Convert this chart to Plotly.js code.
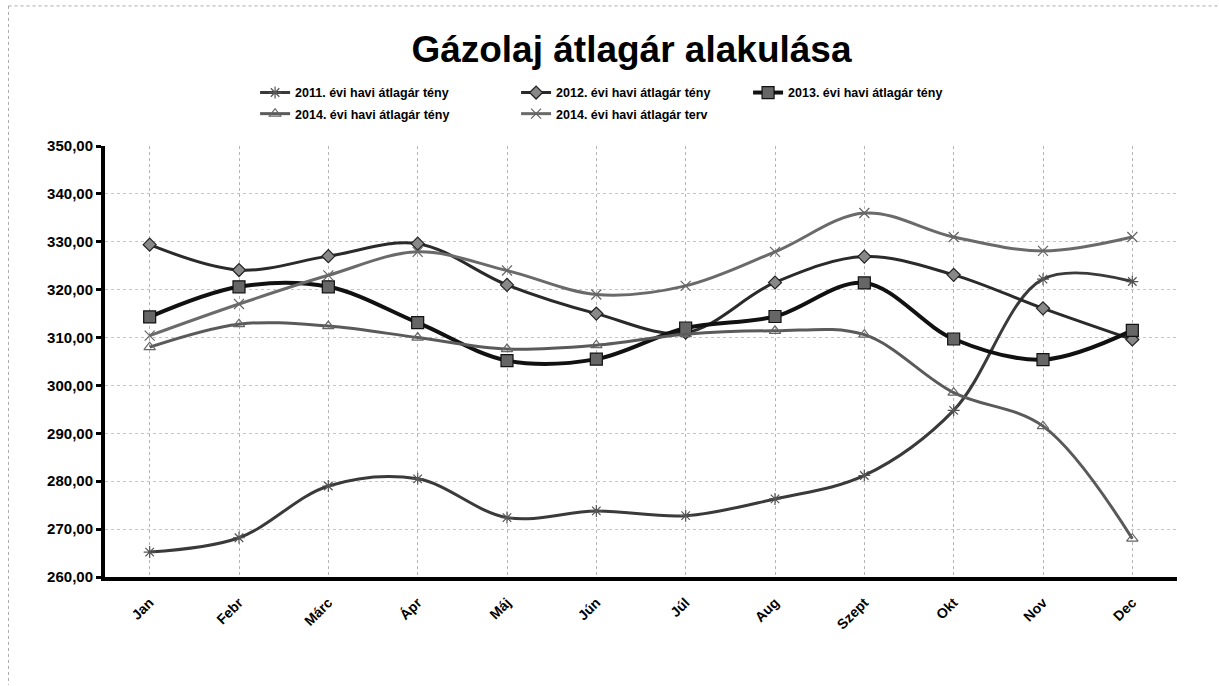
<!DOCTYPE html>
<html>
<head>
<meta charset="utf-8">
<script src="https://cdn.plot.ly/plotly-3.0.1.min.js"></script>
<style>
html,body{margin:0;padding:0;background:#fff;}
#chart{width:1219px;height:686px;}
</style>
</head>
<body>
<div id="chart"></div>
<script>
var months = ["Jan","Febr","Márc","Ápr","Máj","Jún","Júl","Aug","Szept","Okt","Nov","Dec"];
var y2011 = [265.2, 268.2, 279.0, 280.5, 272.4, 273.8, 272.8, 276.3, 281.2, 294.8, 322.2, 321.7];
var y2012 = [329.4, 324.1, 327.0, 329.6, 321.0, 315.0, 311.0, 321.5, 326.9, 323.1, 316.1, 309.6];
var y2013 = [314.3, 320.6, 320.6, 313.1, 305.2, 305.5, 312.0, 314.4, 321.4, 309.7, 305.4, 311.5];
var y2014teny = [308.0, 312.8, 312.4, 310.0, 307.6, 308.4, 310.7, 311.4, 310.6, 298.5, 291.5, 268.0];
var y2014terv = [310.4, 317.0, 323.0, 327.9, 324.0, 319.0, 320.8, 327.9, 336.0, 331.0, 328.1, 331.0];
var names = ["2011. évi havi átlagár tény","2012. évi havi átlagár tény","2013. évi havi átlagár tény","2014. évi havi átlagár tény","2014. évi havi átlagár terv"];
var yTicks = [260,270,280,290,300,310,320,330,340,350];

function tr(name, y, lc, lw, sym, ms, mfill, mline, leg, lwid){
  return {
    x: months, y: y, name: name, type: "scatter", mode: "lines+markers", legend: leg, legendwidth: lwid,
    line: {color: lc, width: lw, shape: "spline", smoothing: 1},
    marker: {symbol: sym, size: ms, color: mfill, line: {color: mline, width: 1.2}}
  };
}
var data = [
  tr(names[0], y2011, "#3a3a3a", 3, "asterisk-open", 10, "#555", "#555", "legend", 216),
  tr(names[1], y2012, "#2a2a2a", 3, "diamond", 10, "#888", "#222", "legend", 187),
  tr(names[2], y2013, "#111", 4, "square", 12, "#666", "#111", "legend", 200),
  tr(names[3], y2014teny, "#5a5a5a", 3, "triangle-up-open", 10, "#666", "#555", "legend2", 216),
  tr(names[4], y2014terv, "#6a6a6a", 3, "x-thin-open", 10, "#666", "#666", "legend2", 200)
];
var legFont = {family: "Liberation Sans, Arial, sans-serif", size: 12.5, color: "#000", weight: "bold"};
var layout = {
  width: 1219, height: 686,
  paper_bgcolor: "#fff", plot_bgcolor: "#fff",
  margin: {l: 105, r: 42, t: 146, b: 109},
  separators: ", ",
  showlegend: true,
  title: {text: "<b>Gázolaj átlagár alakulása</b>", x: 0.518, xanchor: "center", y: 0.928, yanchor: "middle",
    xref: "container", yref: "container",
    font: {family: "Liberation Sans, Arial, sans-serif", size: 37, color: "#000"}},
  legend: {orientation: "h", x: 0.14, xanchor: "left", y: 1.158, yanchor: "top",
    entrywidthmode: "pixels", itemwidth: 30,
    font: legFont, bgcolor: "rgba(0,0,0,0)"},
  legend2: {orientation: "h", x: 0.14, xanchor: "left", y: 1.109, yanchor: "top",
    entrywidthmode: "pixels", itemwidth: 30,
    font: legFont, bgcolor: "rgba(0,0,0,0)"},
  xaxis: {type: "category", range: [-0.5, 11.5],
    showline: true, linecolor: "#000", linewidth: 4,
    showgrid: true, gridcolor: "#b5b5b5", griddash: "dot", gridwidth: 1,
    ticks: "", tickangle: -45, ticklabelstandoff: 8,
    tickfont: {family: "Liberation Sans, Arial, sans-serif", size: 14, color: "#000", weight: "bold"},
    zeroline: false, fixedrange: true},
  yaxis: {range: [260, 350], tickvals: yTicks, tickformat: ".2f",
    showline: true, linecolor: "#000", linewidth: 4,
    showgrid: true, gridcolor: "#c5c5c5", griddash: "dot", gridwidth: 1,
    ticks: "outside", ticklen: 5, tickwidth: 3, tickcolor: "#000",
    tickfont: {family: "Liberation Sans, Arial, sans-serif", size: 15, color: "#000", weight: "bold"},
    zeroline: false, fixedrange: true},
  shapes: [
    {type: "line", xref: "paper", yref: "paper", x0: -0.09, x1: 1.04, y0: 1.325, y1: 1.325, line: {color: "#aaa", width: 1, dash: "dot"}},
    {type: "line", xref: "paper", yref: "paper", x0: -0.09, x1: -0.09, y0: 1.325, y1: -0.25, line: {color: "#aaa", width: 1, dash: "dot"}}
  ]
};
Plotly.newPlot("chart", data, layout, {displayModeBar: false, staticPlot: true});
</script>
</body>
</html>
